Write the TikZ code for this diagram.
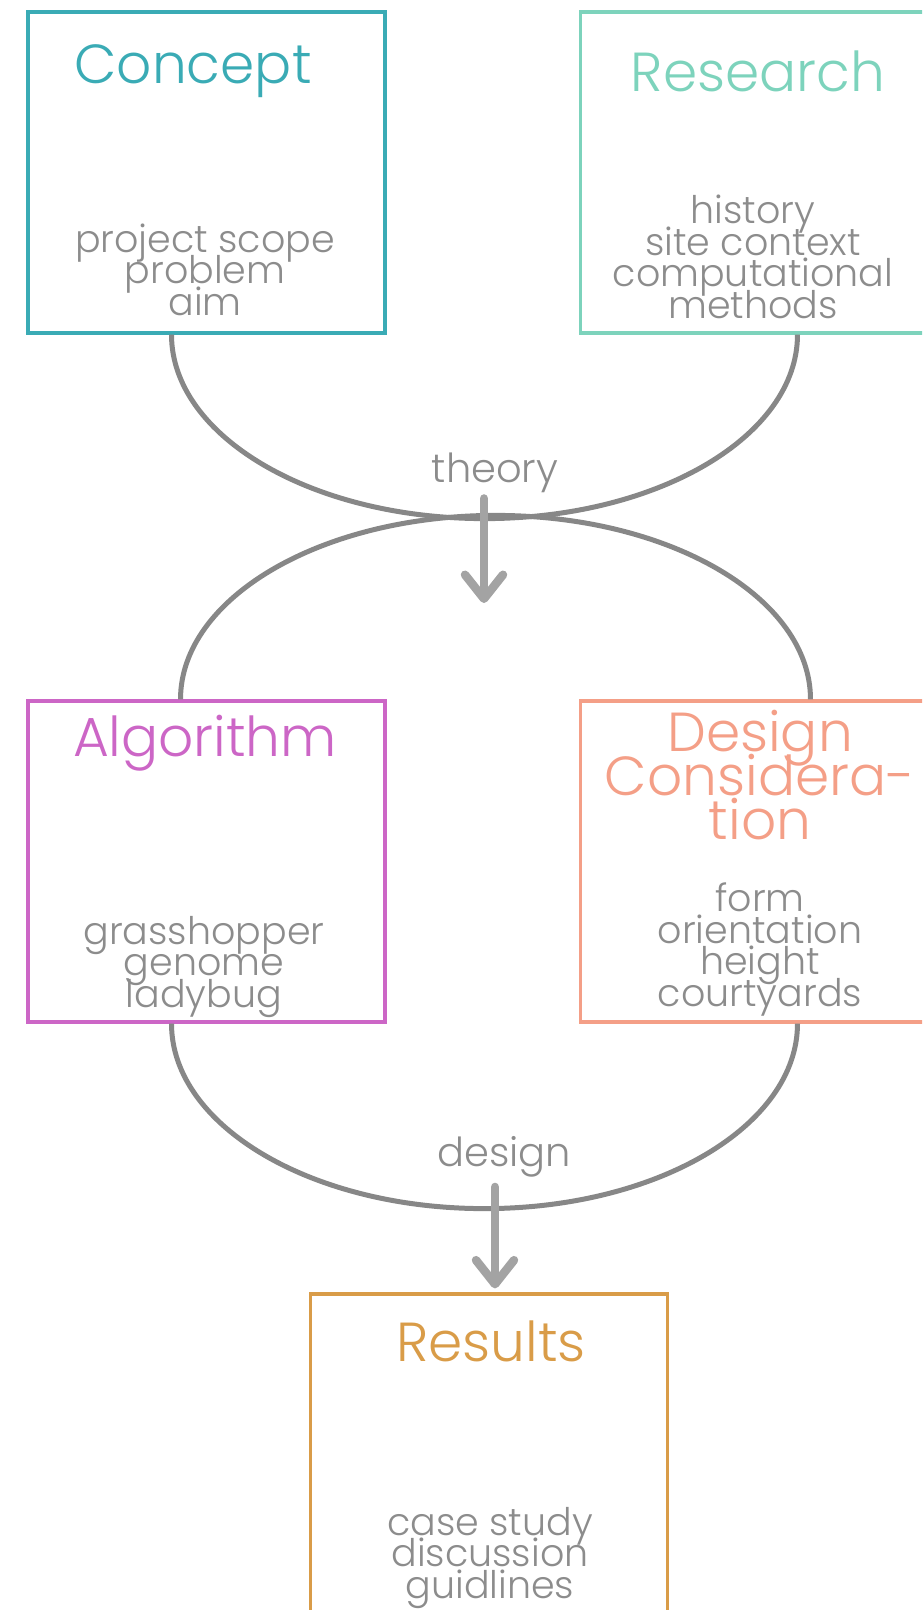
\documentclass[tikz,border=0pt]{standalone}
\usepackage{fontspec}
\setmainfont{Poppins}[UprightFont={* Light}]
\usetikzlibrary{arrows.meta,calc}
\definecolor{conceptc}{HTML}{3AABB5}
\definecolor{researchc}{HTML}{7DD3BC}
\definecolor{algoc}{HTML}{CC66C6}
\definecolor{designc}{HTML}{F49F87}
\definecolor{resultc}{HTML}{D99C48}
\definecolor{textgray}{HTML}{8C8C8C}
\definecolor{linegray}{HTML}{878787}
\definecolor{arrowgray}{HTML}{A3A3A3}
\newcommand{\tightlines}{\lineskiplimit -100pt\lineskip 0pt\relax}

\begin{document}
\begin{tikzpicture}[x=1pt, y=1pt,
    box/.style={draw, line width=3.2pt, minimum width=357pt, minimum height=321pt, inner sep=0pt},
    title/.style={anchor=base, align=center, inner sep=0pt, font=\fontsize{55}{44}\selectfont\tightlines},
    items/.style={anchor=base, align=center, inner sep=0pt, text=textgray, font=\fontsize{38}{31.5}\selectfont\tightlines},
    loop/.style={draw=linegray, line width=5pt},
    flow/.style={draw=arrowgray, line width=8.5pt, line cap=round, -{Straight Barb[length=24pt, width=38pt, round]}}]
    % Page
    \useasboundingbox (0,0) rectangle (922,-1610);
    \clip (0,0) rectangle (922,-1610);

    % Boxes
    \node[box, draw=conceptc] (concept) at (206.5,-172.5) {};
    \node[box, draw=researchc] (research) at (759,-172.5) {};
    \node[box, draw=algoc] (algo) at (206.5,-861.5) {};
    \node[box, draw=designc] (design) at (759,-861.5) {};
    \node[box, draw=resultc] (results) at (489,-1454.5) {};

    % Titles (anchored at the last baseline)
    \node[title, text=conceptc] (conceptT) at (193,-83) {Concept};
    \node[title, text=researchc] (researchT) at (758,-91) {Research};
    \node[title, text=algoc] (algoT) at (205,-756) {Algorithm};
    \node[title, text=designc] (designT) at (760,-839) {Design\\Considera-\\tion};
    \node[title, text=resultc] (resultsT) at (491,-1361) {Results};

    % Contents
    \node[items] (conceptL) at (205,-315) {project scope\\problem\\aim};
    \node[items] (researchL) at (753,-318) {history\\site context\\computational\\methods};
    \node[items] (algoL) at (204,-1007) {grasshopper\\genome\\ladybug};
    \node[items] (designL) at (760,-1006) {form\\orientation\\height\\courtyards};
    \node[items] (resultsL) at (490,-1598) {case study\\discussion\\guidlines};

    % Curves
    \draw[loop] ($(concept.south)+(-35,0)$) arc[start angle=180, end angle=360, x radius=313, y radius=184];
    \draw[loop] ($(algo.north)+(-26,0)$) arc[start angle=180, end angle=0, x radius=315, y radius=184];
    \draw[loop] ($(algo.south)+(-35,0)$) arc[start angle=180, end angle=360, x radius=313, y radius=185];

    % Labels and arrows
    \node[items, font=\fontsize{40}{32}\selectfont] (theory) at (495,-482) {theory};
    \node[items, font=\fontsize{40}{32}\selectfont] (designW) at (504,-1166) {design};
    \coordinate (theoryEnd) at (484,-603);
    \coordinate (designEnd) at ($(results.north)+(6,4)$);
    \draw[flow] (theoryEnd |- theory.south) ++(0,-6) -- (theoryEnd);
    \draw[flow] (designEnd |- designW.south) ++(0,-10) -- (designEnd);
\end{tikzpicture}
\end{document}
